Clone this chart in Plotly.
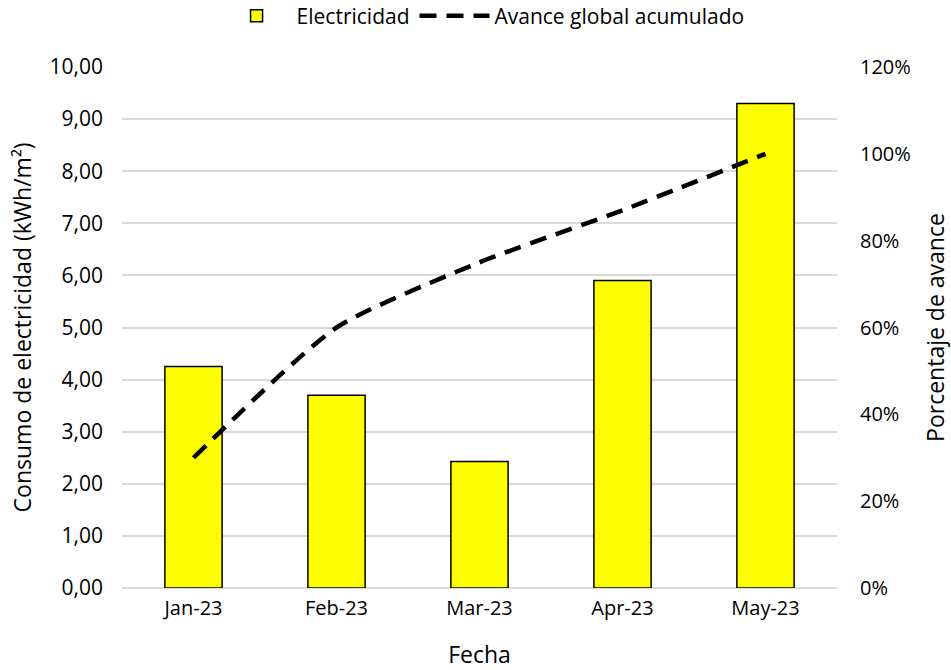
import plotly.graph_objects as go

# Monthly data
months = ["Jan-23", "Feb-23", "Mar-23", "Apr-23", "May-23"]
electricity = [4.25, 3.70, 2.43, 5.90, 9.30]          # kWh/m²
progress = [0.30, 0.60, 0.75, 0.87, 1.00]             # cumulative share

y_ticks = [i * 1.0 for i in range(11)]
y2_ticks = [i * 0.2 for i in range(7)]

FONT = "'Open Sans', Lato, sans-serif"

fig = go.Figure()

fig.add_trace(go.Bar(
    x=months, y=electricity, name="Electricidad",
    marker=dict(color="#FFFF00", line=dict(color="#000000", width=1.5)),
    width=0.4,
))

fig.add_trace(go.Scatter(
    x=months, y=progress, name="Avance global acumulado",
    yaxis="y2", mode="lines",
    line=dict(color="#000000", width=4.5, dash="17px,10px", shape="spline", smoothing=0.6),
))

fig.update_layout(
    width=951, height=670, autosize=False,
    margin=dict(l=122, r=114, t=67, b=82, autoexpand=False),
    paper_bgcolor="white", plot_bgcolor="white",
    separators=",.",
    font=dict(family=FONT, size=21, color="#000000"),
    showlegend=True,
    legend=dict(orientation="h", x=0.505, xanchor="center",
                yref="container", y=0.976, yanchor="middle",
                font=dict(size=21), traceorder="normal", itemwidth=70),
    xaxis=dict(
        title=dict(text="Fecha", font=dict(size=23), standoff=28),
        showgrid=False, showline=False, ticks="",
        tickfont=dict(size=20), ticklabelstandoff=6,
    ),
    yaxis=dict(
        range=[0, 10], tickvals=y_ticks, tickformat=".2f",
        showgrid=True, gridcolor="#D9D9D9", gridwidth=1.5,
        zeroline=True, zerolinecolor="#D9D9D9", zerolinewidth=1.5,
        showline=False, ticks="", tickfont=dict(size=21), ticklabelstandoff=18,
    ),
    yaxis2=dict(
        title=dict(text="Porcentaje de avance", font=dict(size=23), standoff=22),
        overlaying="y", side="right",
        range=[0, 1.2], tickvals=y2_ticks, tickformat=".0%",
        showgrid=False, zeroline=False, showline=False, ticks="",
        tickfont=dict(size=20), ticklabelstandoff=22,
    ),
    bargap=0.6,
)

# Left axis title, placed in paper coordinates next to the tick labels
fig.add_annotation(
    text="Consumo de electricidad (kWh/m²)",
    xref="paper", yref="paper", x=-0.14, y=0.5,
    xanchor="center", yanchor="middle", textangle=-90,
    showarrow=False, font=dict(size=23),
)

fig.write_html("out.html")
